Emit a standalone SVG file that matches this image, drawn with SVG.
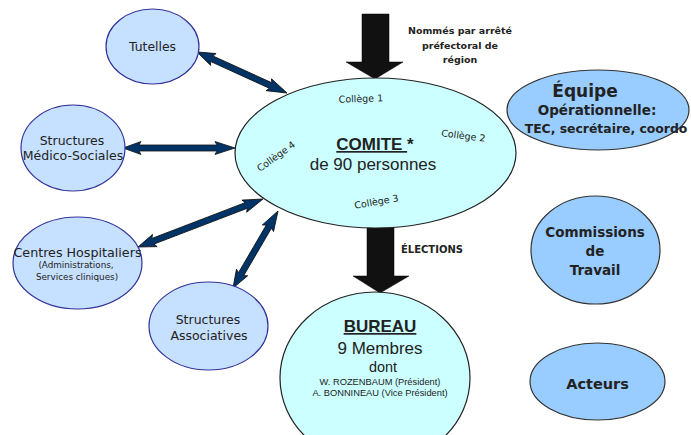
<svg xmlns="http://www.w3.org/2000/svg" width="691" height="435" viewBox="0 0 691 435">
<style>
.side{fill:#C6E0FF;stroke:#333399;stroke-width:1.2}
.main{fill:#CCFFFF;stroke:#222;stroke-width:1.2}
.right{fill:#99CCFF;stroke:#333;stroke-width:1.2}
.comic{font-family:"DejaVu Sans",sans-serif;fill:#222;text-anchor:middle}
.bold{font-weight:bold}
.arial{font-family:"Liberation Sans",Arial,sans-serif;fill:#222;text-anchor:middle}
.dbl{fill:#003366;stroke:#111;stroke-width:0.8}
.big{fill:#111;stroke:#000;stroke-width:0.5}
</style>
<rect width="691" height="435" fill="#fff"/>

<g id="connectors">
  <polygon class="big" points="362,14 389,14 389,62 403,62 375,79 346,62 362,62"/>
  <polygon class="big" points="367,222 394,222 394,276 409,276 380,293 353,276 367,276"/>
  <g transform="translate(197,52) rotate(24.5)">
    <polygon class="dbl" points="0,0 18,-6.5 16,-3 80.9,-3 78.9,-6.5 98.9,0 78.9,6.5 80.9,3 16,3 18,6.5"/>
  </g>
  <g transform="translate(123,148)">
    <polygon class="dbl" points="0,0 18,-6.5 16,-3 94,-3 92,-6.5 112,0 92,6.5 94,3 16,3 18,6.5"/>
  </g>
  <g transform="translate(138,247) rotate(-21)">
    <polygon class="dbl" points="0,0 18,-6.5 16,-3 115.9,-3 113.9,-6.5 133.9,0 113.9,6.5 115.9,3 16,3 18,6.5"/>
  </g>
  <g transform="translate(233,288) rotate(-59.7)">
    <polygon class="dbl" points="0,0 18,-6.5 16,-3 71.2,-3 69.2,-6.5 89.2,0 69.2,6.5 71.2,3 16,3 18,6.5"/>
  </g>
</g>

<g id="note">
  <text class="comic bold" font-size="9.5" x="460" y="34">Nommés par arrêté</text>
  <text class="comic bold" font-size="9.5" x="460" y="49">préfectoral de</text>
  <text class="comic bold" font-size="9.5" x="460" y="63">région</text>
  <text class="comic bold" font-size="10" x="432" y="253">ÉLECTIONS</text>
</g>

<g id="tutelles">
  <ellipse class="side" cx="152.5" cy="46.5" rx="46.5" ry="37.5"/>
  <text class="comic" font-size="12.4" x="152.5" y="50.5">Tutelles</text>
</g>
<g id="medico">
  <ellipse class="side" cx="73" cy="148" rx="52" ry="43"/>
  <text class="comic" font-size="12.5" x="72" y="145">Structures</text>
  <text class="comic" font-size="12.5" x="73" y="160">Médico-Sociales</text>
</g>
<g id="hospitaliers">
  <ellipse class="side" cx="77.5" cy="263" rx="64.5" ry="46"/>
  <text class="comic" font-size="12.7" x="77.5" y="257">Centres Hospitaliers</text>
  <text class="comic" font-size="8.8" x="76" y="268">(Administrations,</text>
  <text class="comic" font-size="8.8" x="77" y="280">Services cliniques)</text>
</g>
<g id="associatives">
  <ellipse class="side" cx="208.5" cy="326" rx="59.5" ry="44"/>
  <text class="comic" font-size="12.5" x="208" y="324">Structures</text>
  <text class="comic" font-size="12.5" x="209" y="340">Associatives</text>
</g>

<g id="comite">
  <ellipse class="main" cx="375.5" cy="153" rx="140.5" ry="75"/>
  <text class="arial bold" font-size="17" x="375" y="150"><tspan text-decoration="underline">COMITE </tspan>*</text>
  <text class="arial" font-size="17" x="373" y="170">de 90 personnes</text>
  <text class="comic" font-size="9.5" transform="translate(361,102) rotate(-2)">Collège 1</text>
  <text class="comic" font-size="9.5" transform="translate(463,139) rotate(7)">Collège 2</text>
  <text class="comic" font-size="9.5" transform="translate(377,205) rotate(-10)">Collège 3</text>
  <text class="comic" font-size="9.5" transform="translate(278,159) rotate(-36)">Collège 4</text>
</g>

<g id="bureau">
  <ellipse class="main" cx="375" cy="378" rx="95" ry="86"/>
  <text class="arial bold" font-size="17" x="380" y="332" text-decoration="underline">BUREAU</text>
  <text class="arial" font-size="17" x="380" y="354">9 Membres</text>
  <text class="arial" font-size="14.4" x="383" y="372">dont</text>
  <text class="arial" font-size="9.3" x="380" y="385">W. ROZENBAUM (Président)</text>
  <text class="arial" font-size="9.3" x="380" y="396">A. BONNINEAU (Vice Président)</text>
</g>

<g id="equipe">
  <ellipse class="right" cx="598" cy="110" rx="91" ry="40"/>
  <text class="comic bold" font-size="17" x="585" y="97">Équipe</text>
  <text class="comic bold" font-size="13.5" x="597" y="115">Opérationnelle:</text>
  <text class="comic bold" font-size="12.4" x="606" y="133">TEC, secrétaire, coordo</text>
</g>
<g id="commissions">
  <ellipse class="right" cx="595.5" cy="250" rx="64.5" ry="54"/>
  <text class="comic bold" font-size="13.5" x="595" y="237">Commissions</text>
  <text class="comic bold" font-size="13.5" x="595" y="256">de</text>
  <text class="comic bold" font-size="13.5" x="595" y="275">Travail</text>
</g>
<g id="acteurs">
  <ellipse class="right" cx="597.5" cy="381.5" rx="67.5" ry="38.5"/>
  <text class="comic bold" font-size="14.5" x="597.5" y="389">Acteurs</text>
</g>
</svg>
